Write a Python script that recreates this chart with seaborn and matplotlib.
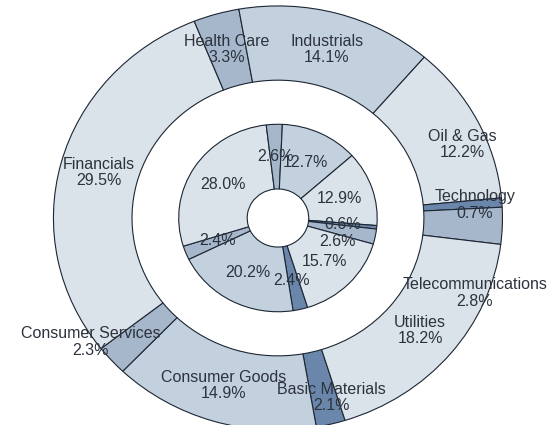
import numpy as np
import seaborn as sns
import matplotlib.pyplot as plt

sns.set_style("white")
plt.rcParams['font.family'] = ['Liberation Sans', 'DejaVu Sans']

# sectors, alphabetical (drawn clockwise)
sectors = ['Basic Materials', 'Consumer Goods', 'Consumer Services', 'Financials',
           'Health Care', 'Industrials', 'Oil & Gas', 'Technology',
           'Telecommunications', 'Utilities']
outer_pct = [2.1, 14.9, 2.3, 29.5, 3.3, 14.1, 12.2, 0.7, 2.8, 18.2]
inner_pct = [2.4, 20.2, 2.4, 28.0, 2.6, 12.7, 12.9, 0.6, 2.6, 15.7]

# shades of blue-grey used per sector
dark, mdark, mid, light = '#6a87ab', '#a6b7cc', '#c3d1df', '#dae2ea'
colors = [dark, mid, mdark, light, mdark, mid, light, dark, mdark, light]

# labels that were nudged away from the slice middle: (angle deg, radius)
outer_nudge = {'Oil & Gas': (23, 0.89), 'Technology': (4, 0.88),
               'Telecommunications': (-22, 0.945), 'Basic Materials': (-74.3, 0.88),
               'Consumer Services': (-145, 1.02)}
inner_nudge = {'Telecommunications': (-23, 0.286), 'Basic Materials': (-78, 0.299)}

fig = plt.figure(figsize=(5.55, 4.25), dpi=100)
ax = fig.add_axes([0, 0, 1, 1])

edge = dict(edgecolor='#1c2633', linewidth=0.8)
start = -72.6
w_out, _ = ax.pie(outer_pct, colors=colors, radius=1.0, startangle=start,
                  counterclock=False, wedgeprops=dict(width=0.35, **edge))
w_in, _ = ax.pie(inner_pct, colors=colors, radius=0.442, startangle=start,
                 counterclock=False, wedgeprops=dict(width=0.305, **edge))

txt = dict(ha='center', va='center', fontsize=11.5, color='#2c333d', linespacing=1.1)

for name, pct, w in zip(sectors, outer_pct, w_out):
    ang, r = outer_nudge.get(name, ((w.theta1 + w.theta2) / 2, 0.825))
    a = np.deg2rad(ang)
    ax.text(r * np.cos(a), r * np.sin(a), f'{name}\n{pct:.1f}%', **txt)

for name, pct, w in zip(sectors, inner_pct, w_in):
    ang, r = inner_nudge.get(name, ((w.theta1 + w.theta2) / 2, 0.29))
    a = np.deg2rad(ang)
    ax.text(r * np.cos(a), r * np.sin(a), f'{pct:.1f}%', **txt)

# the original is drawn slightly wider than tall
ax.set_aspect('auto')
ax.set_xlim(-1.238, 1.234)
ax.set_ylim(-0.976, 1.028)
ax.axis('off')

fig.savefig('out.png', dpi=100)
